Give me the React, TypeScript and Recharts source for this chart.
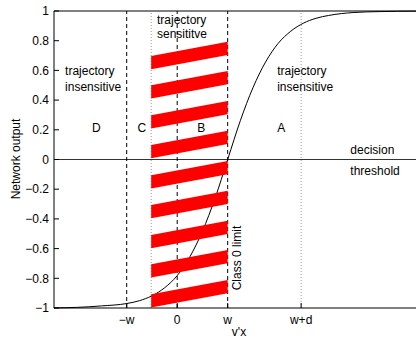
import React from 'react'
import { LineChart, Line, XAxis, YAxis, ReferenceLine, ReferenceArea, ReferenceDot } from 'recharts'

// network output curve (x in units of w)
const curveX = [-2.44, -2, -1.5, -1, -0.75, -0.5, -0.25, 0, 0.25, 0.5, 0.75, 1, 1.25, 1.5, 1.75, 2, 2.25, 2.5, 2.75, 3, 3.5, 4, 4.73]
const curveY = [-0.999, -0.996, -0.986, -0.97, -0.951, -0.918, -0.864, -0.782, -0.656, -0.483, -0.261, 0, 0.261, 0.483, 0.656, 0.782, 0.864, 0.918, 0.951, 0.97, 0.99, 0.996, 0.999]

const xTicks = [-1, 0, 1, 2.455]
const xTickLabels = ['−w', '0', 'w', 'w+d']
const yTicks = [-1, -0.8, -0.6, -0.4, -0.2, 0, 0.2, 0.4, 0.6, 0.8, 1]
const xDomain = [-2.44, 4.73]
const yDomain = [-1, 1]

// red hatched band: right-hand top edge of each stripe
const stripeTops = [0.793, 0.596, 0.394, 0.194, -0.01, -0.21, -0.412, -0.609, -0.811]
const stripeLeft = -0.515
const stripeRight = 1
const stripeDepth = 0.186

const dashedX = [-1, 0, 1]
const dottedX = [-0.515, 2.455]

const notes = [
  { x: -2.22, y: 0.596, text: 'trajectory', anchor: 'start' },
  { x: -2.22, y: 0.49, text: 'insensitive', anchor: 'start' },
  { x: -0.4, y: 0.94, text: 'trajectory', anchor: 'start' },
  { x: -0.4, y: 0.845, text: 'sensititve', anchor: 'start' },
  { x: 1.98, y: 0.596, text: 'trajectory', anchor: 'start' },
  { x: 1.98, y: 0.49, text: 'insensitive', anchor: 'start' },
  { x: -1.6, y: 0.215, text: 'D', anchor: 'middle' },
  { x: -0.7, y: 0.215, text: 'C', anchor: 'middle' },
  { x: 0.475, y: 0.215, text: 'B', anchor: 'middle' },
  { x: 2.06, y: 0.215, text: 'A', anchor: 'middle' },
  { x: 3.43, y: 0.064, text: 'decision', anchor: 'start' },
  { x: 3.43, y: -0.077, text: 'threshold', anchor: 'start' },
]

const FONT = 'Liberation Sans, Arial, sans-serif'
const data = curveX.map((x, i) => ({ x, y: curveY[i] }))

const fmtY = (v: number) => (v === 0 ? '0' : String(Math.round(v * 10) / 10).replace('-', '−'))
const fmtX = (v: number) => xTickLabels[xTicks.indexOf(v)] ?? ''

const Stripe = (p: any) => {
  const { x, y, width: w, height: h } = p
  const pts = [
    [x, y + h * 0.52],
    [x + w, y],
    [x + w, y + h * 0.48],
    [x, y + h],
  ]
  return <polygon points={pts.map(q => q.join(',')).join(' ')} fill="#ff0000" />
}

const noteShape = (text: string, anchor: string, rotate = false) => (p: any) => (
  <text
    x={p.cx}
    y={p.cy}
    dy="0.35em"
    textAnchor={anchor as any}
    fontFamily={FONT}
    fontSize={12}
    fill="#000"
    transform={rotate ? `rotate(-90 ${p.cx} ${p.cy})` : undefined}
  >
    {text}
  </text>
)

export default function App() {
  return (
    <div style={{ position: 'absolute', left: 0, top: 0, width: 416, height: 338, background: '#fff' }}>
      <LineChart width={416} height={338} data={data} margin={{ top: 11, right: 0, bottom: 0, left: 0 }}>
        <XAxis
          dataKey="x"
          type="number"
          domain={xDomain}
          ticks={xTicks}
          interval={0}
          tickFormatter={fmtX}
          height={30}
          axisLine={{ stroke: '#000' }}
          tickLine={{ stroke: '#000' }}
          tickSize={-5}
          tickMargin={12}
          tick={{ fill: '#000', fontSize: 12, fontFamily: FONT }}
          label={{
            content: () => (
              <text x={239} y={336} textAnchor="middle" fontFamily={FONT} fontSize={12} fill="#000">
                v'x
              </text>
            ),
          }}
        />
        <YAxis
          type="number"
          domain={yDomain}
          ticks={yTicks}
          interval={0}
          tickFormatter={fmtY}
          width={54}
          axisLine={{ stroke: '#000' }}
          tickLine={{ stroke: '#000' }}
          tickSize={-5}
          tickMargin={10}
          tick={{ fill: '#000', fontSize: 12, fontFamily: FONT }}
          label={{
            content: () => (
              <text x={16} y={159} transform="rotate(-90 16 159)" dy="0.35em" textAnchor="middle" fontFamily={FONT} fontSize={12} fill="#000">
                Network output
              </text>
            ),
          }}
        />
        <ReferenceLine y={1} stroke="#000" />
        <ReferenceLine y={0} stroke="#333" />
        {dashedX.map(v => (
          <ReferenceLine key={v} x={v} stroke="#000" strokeDasharray="4 3" />
        ))}
        {dottedX.map(v => (
          <ReferenceLine key={v} x={v} stroke="#999" strokeDasharray="1 2" />
        ))}
        <Line dataKey="y" type="monotone" stroke="#000" strokeWidth={1} dot={false} isAnimationActive={false} />
      </LineChart>
      {/* overlay so the red stripes sit above every line */}
      <div style={{ position: 'absolute', left: 0, top: 0 }}>
        <LineChart width={416} height={338} data={data} margin={{ top: 11, right: 0, bottom: 0, left: 0 }}>
          <XAxis dataKey="x" type="number" domain={xDomain} height={30} tick={false} axisLine={false} tickLine={false} />
          <YAxis type="number" domain={yDomain} width={54} tick={false} axisLine={false} tickLine={false} />
          <Line dataKey="y" stroke="none" dot={false} isAnimationActive={false} />
          {stripeTops.map(t => (
            <ReferenceArea key={t} x1={stripeLeft} x2={stripeRight} y1={t - stripeDepth} y2={t} shape={Stripe} />
          ))}
          {notes.map((n, i) => (
            <ReferenceDot key={i} x={n.x} y={n.y} r={1} shape={noteShape(n.text, n.anchor)} />
          ))}
          <ReferenceDot x={1.19} y={-0.663} r={1} shape={noteShape('Class 0 limit', 'middle', true)} />
        </LineChart>
      </div>
    </div>
  )
}
